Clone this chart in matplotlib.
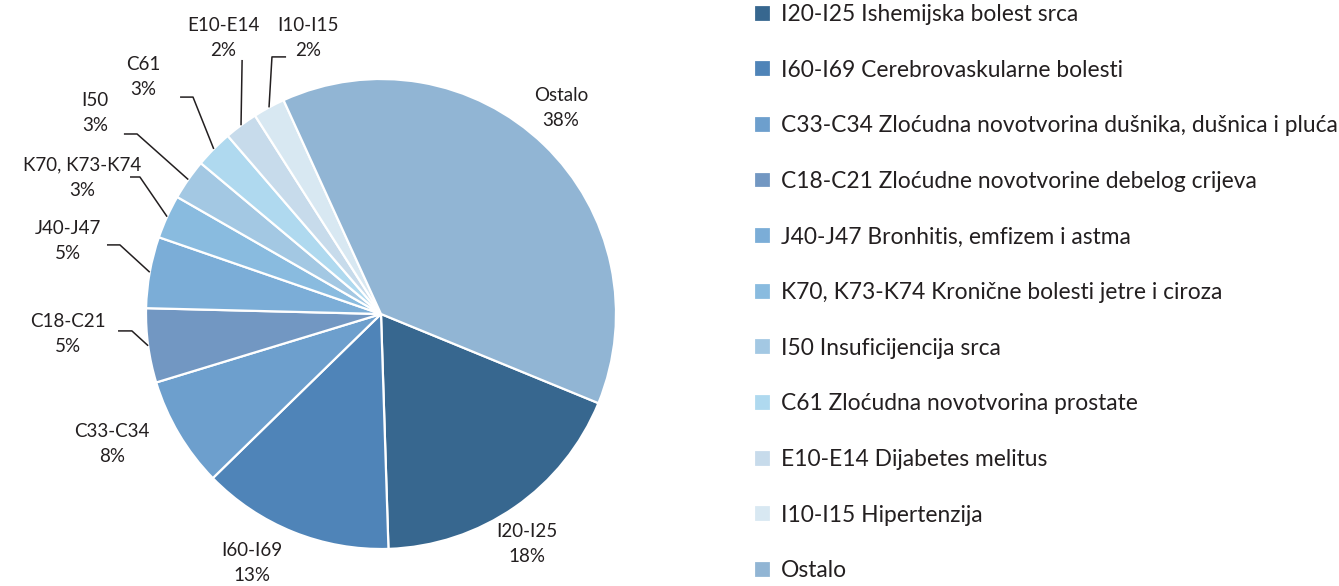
import numpy as np
import matplotlib.pyplot as plt

plt.rcParams['font.family'] = ['Lato', 'DejaVu Sans']

codes = ["I20-I25", "I60-I69", "C33-C34", "C18-C21", "J40-J47",
         "K70, K73-K74", "I50", "C61", "E10-E14", "I10-I15", "Ostalo"]
names = ["I20-I25 Ishemijska bolest srca",
         "I60-I69 Cerebrovaskularne bolesti",
         "C33-C34 Zloćudna novotvorina dušnika, dušnica i pluća",
         "C18-C21 Zloćudne novotvorine debelog crijeva",
         "J40-J47 Bronhitis, emfizem i astma",
         "K70, K73-K74 Kronične bolesti jetre i ciroza",
         "I50 Insuficijencija srca",
         "C61 Zloćudna novotvorina prostate",
         "E10-E14 Dijabetes melitus",
         "I10-I15 Hipertenzija",
         "Ostalo"]
shares = [18.3, 13.2, 7.6, 5.1, 4.9, 3.0, 2.8, 2.6, 2.3, 2.2, 38.0]
colors = ["#37678f", "#4f84b8", "#6d9fcd", "#7297c2", "#7badd7",
          "#89bbdf", "#a3c8e3", "#afd9ef", "#c7dbeb", "#d8e8f2", "#91b5d4"]

# label layout (pie radius = 1): text centre, and for leader labels elbow/end of line
label_pos = {
    "I20-I25": (0.62, -0.98), "I60-I69": (-0.55, -1.06), "C33-C34": (-1.145, -0.553),
    "C18-C21": (-1.332, -0.085), "J40-J47": (-1.332, 0.311), "K70, K73-K74": (-1.272, 0.579),
    "I50": (-1.217, 0.855), "C61": (-1.013, 1.009), "E10-E14": (-0.672, 1.174),
    "I10-I15": (-0.311, 1.174), "Ostalo": (0.766, 0.877),
}
leaders = {
    "C18-C21": ((-1.06, -0.072), (-1.119, -0.072)),
    "J40-J47": ((-1.111, 0.294), (-1.166, 0.294)),
    "K70, K73-K74": ((-1.026, 0.583), (-1.068, 0.583)),
    "I50": ((-1.038, 0.766), (-1.094, 0.766)),
    "C61": ((-0.80, 0.923), (-0.855, 0.923)),
    "E10-E14": ((-0.591, 1.081), (-0.591, 1.081)),
    "I10-I15": ((-0.464, 1.094), (-0.404, 1.094)),
}

W, H = 1339, 586
fig = plt.figure(figsize=(W / 100, H / 100), dpi=100)
cx, cy, R = 381, 314, 235
ax = fig.add_axes([(cx - R) / W, (H - cy - R) / H, 2 * R / W, 2 * R / H])

wedges, _ = ax.pie(shares, colors=colors, startangle=-22.3, counterclock=False,
                   radius=1, wedgeprops=dict(edgecolor='white', linewidth=1.6))
ax.set_xlim(-1, 1)
ax.set_ylim(-1, 1)
ax.set_aspect('equal')
ax.axis('off')

txt_color = "#231f20"
for w, code, val in zip(wedges, codes, shares):
    tx, ty = label_pos[code]
    ax.text(tx, ty, f"{code}\n{round(val)}%", ha='center', va='center',
            fontsize=13.5, color=txt_color, linespacing=1.6, clip_on=False)
    if code in leaders:
        mid = np.deg2rad((w.theta1 + w.theta2) / 2)
        (bx, by), (ex, ey) = leaders[code]
        ax.plot([np.cos(mid), bx, ex], [np.sin(mid), by, ey], color=txt_color,
                lw=1.1, clip_on=False, solid_capstyle='butt')

fig.legend(wedges, names, loc='upper left', bbox_to_anchor=(745 / W, 1 + 5 / H),
           frameon=False, fontsize=16.4, handlelength=0.76, handleheight=0.76,
           handletextpad=0.4, labelspacing=1.52, borderaxespad=0,
           labelcolor=txt_color)

fig.savefig("out.png", dpi=100)
